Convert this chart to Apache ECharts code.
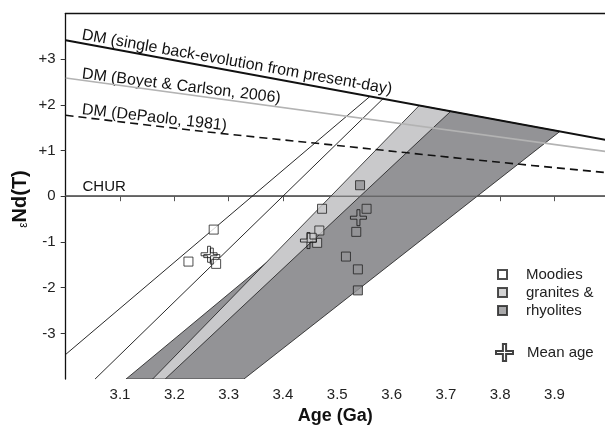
<!DOCTYPE html>
<html><head><meta charset="utf-8">
<script src="https://cdn.jsdelivr.net/npm/echarts@6/dist/echarts.min.js"></script>
<style>html,body{margin:0;padding:0;background:#fff}#c{width:605px;height:430px}</style>
</head><body><div id="c"></div>
<script>
// Depleted-mantle and CHUR reference curves
const dmSingleAge = [3.0, 4.0];
const dmSingleEps = [3.41, 1.22];
const dmBoyetAge = [3.0, 4.0];
const dmBoyetEps = [2.585, 0.97];
const dmDePaoloAge = [3.0, 3.25, 3.5, 3.75, 4.0];
const dmDePaoloEps = [1.77, 1.42, 1.11, 0.80, 0.51];
const churAge = [3.0, 4.0];
const churEps = [0, 0];
// Moodies crustal evolution lines
const moodiesLine1Age = [3.0, 3.560];
const moodiesLine1Eps = [-3.46, 2.18];
const moodiesLine2Age = [3.054, 3.585];
const moodiesLine2Eps = [-4.0, 2.14];
// Evolution bands (polygon corners)
const graniteBandAge = [3.160, 3.651, 3.709, 3.183];
const graniteBandEps = [-4.0, 1.984, 1.857, -4.0];
const rhyoliteBandAge = [3.111, 3.706, 3.910, 3.328];
const rhyoliteBandEps = [-4.0, 1.863, 1.417, -4.0];
// Samples
const moodiesAge = [3.2725, 3.226, 3.277];
const moodiesEps = [-0.73, -1.43, -1.48];
const graniteAge = [3.472, 3.467, 3.463, 3.453];
const graniteEps = [-0.275, -0.75, -1.02, -0.91];
const rhyoliteAge = [3.542, 3.554, 3.535, 3.516, 3.538, 3.538];
const rhyoliteEps = [0.24, -0.275, -0.78, -1.32, -1.60, -2.06];
const meanAgeAge = [3.264, 3.269, 3.447, 3.539];
const meanAgeEps = [-1.27, -1.31, -0.97, -0.47];
// Tick labels
const xTickLabels = ['3.1','3.2','3.3','3.4','3.5','3.6','3.7','3.8','3.9'];
const yTickValues = [3, 2, 1, 0, -1, -2, -3];
const yTickLabels = ['+3','+2','+1','0','-1','-2','-3'];

const zip = (a, b) => a.map((v, i) => [v, b[i]]);
const FONT = 'Liberation Sans, Arial, Helvetica, sans-serif';
const crossPath = 'path://M6.5,0 H9.5 V6.5 H16 V9.5 H9.5 V16 H6.5 V9.5 H0 V6.5 H6.5 Z';

function bandSeries(name, ages, eps, fill) {
  return {
    type: 'custom', name: name, silent: true, z: 1, clip: true,
    data: zip(ages, eps),
    renderItem: function (params, api) {
      if (params.dataIndex !== 0) return null;
      const pts = ages.map((a, i) => api.coord([a, eps[i]]));
      return { type: 'polygon', shape: { points: pts },
        style: { fill: fill, stroke: '#1a1a1a', lineWidth: 0.8 } };
    }
  };
}
function lineSeries(ages, eps, color, width, extra) {
  return Object.assign({
    type: 'line', data: zip(ages, eps), symbol: 'none', silent: true, z: 3,
    lineStyle: { color: color, width: width }
  }, extra || {});
}

const chart = echarts.init(document.getElementById('c'), null, { renderer: 'canvas' });
chart.setOption({
  animation: false,
  backgroundColor: '#fff',
  grid: { left: 65.7, right: 0, top: 13.3, bottom: 50, show: false },
  xAxis: [{
    type: 'value', min: 3.0, max: 3.993, interval: 0.1,
    name: 'Age (Ga)', nameLocation: 'middle', nameGap: 22,
    nameTextStyle: { fontFamily: FONT, fontSize: 18, fontWeight: 'bold', color: '#111', verticalAlign: 'top' },
    axisLine: { show: true, lineStyle: { color: '#555', width: 1.5 } },
    axisTick: { show: true, inside: false, length: 5, lineStyle: { color: '#555', width: 1 } },
    axisLabel: { margin: 8, fontFamily: FONT, fontSize: 15, color: '#222',
      showMinLabel: false, showMaxLabel: false,
      formatter: v => { const s = v.toFixed(1); return xTickLabels.includes(s) ? s : ''; } },
    splitLine: { show: false }
  }, {
    type: 'value', position: 'top', min: 3.0, max: 3.993,
    axisLine: { show: true, onZero: false, lineStyle: { color: '#111', width: 1.3 } },
    axisTick: { show: false }, axisLabel: { show: false }, splitLine: { show: false }
  }],
  yAxis: {
    type: 'value', min: -4, max: 4, interval: 1,
    axisLine: { show: true, onZero: false, lineStyle: { color: '#111', width: 1.3 } },
    axisTick: { show: true, inside: false, length: 5, lineStyle: { color: '#333', width: 1 } },
    axisLabel: { margin: 10, fontFamily: FONT, fontSize: 15, color: '#222',
      showMinLabel: false, showMaxLabel: false,
      formatter: v => { const i = yTickValues.indexOf(Math.round(v)); return i >= 0 ? yTickLabels[i] : ''; } },
    splitLine: { show: false }
  },
  legend: [
    { data: ['Moodies', 'granites &', 'rhyolites'], orient: 'vertical', left: 497, top: 267, padding: 0,
      itemWidth: 9, itemHeight: 9, itemGap: 3, selectedMode: false,
      textStyle: { fontFamily: FONT, fontSize: 15, color: '#222', padding: [0, 0, 0, 14] } },
    { data: ['Mean age'], orient: 'vertical', left: 495, top: 343, padding: 0,
      itemWidth: 17, itemHeight: 17, selectedMode: false,
      textStyle: { fontFamily: FONT, fontSize: 15, color: '#222', padding: [0, 0, 0, 9] } }
  ],
  series: [
    bandSeries('rhyolite band', rhyoliteBandAge, rhyoliteBandEps, '#939396'),
    bandSeries('granite band', graniteBandAge, graniteBandEps, '#c9c9cb'),
    lineSeries(churAge, churEps, '#555', 1),
    lineSeries(moodiesLine1Age, moodiesLine1Eps, '#111', 0.9),
    lineSeries(moodiesLine2Age, moodiesLine2Eps, '#111', 0.9),
    lineSeries(dmBoyetAge, dmBoyetEps, '#b3b3b3', 1.6),
    lineSeries(dmDePaoloAge, dmDePaoloEps, '#111', 1.6, { smooth: 0.3, lineStyle: { color: '#111', width: 1.6, type: [8, 5] } }),
    lineSeries(dmSingleAge, dmSingleEps, '#111', 2),
    { type: 'scatter', name: 'Moodies', data: zip(moodiesAge, moodiesEps), symbol: 'rect', symbolSize: 9, z: 5,
      itemStyle: { color: '#fff', borderColor: '#222', borderWidth: 1 } },
    { type: 'scatter', name: 'granites &', data: zip(graniteAge, graniteEps), symbol: 'rect', symbolSize: 9, z: 5,
      itemStyle: { color: '#c9c9cb', borderColor: '#222', borderWidth: 1 } },
    { type: 'scatter', name: 'rhyolites', data: zip(rhyoliteAge, rhyoliteEps), symbol: 'rect', symbolSize: 9, z: 5,
      itemStyle: { color: '#939396', borderColor: '#222', borderWidth: 1 } },
    { type: 'scatter', name: 'Mean age', data: zip(meanAgeAge, meanAgeEps), symbol: crossPath, symbolSize: 16, z: 6,
      itemStyle: { color: 'rgba(255,255,255,0)', borderColor: '#111', borderWidth: 1 } }
  ],
  graphic: [
    { type: 'text', x: 82, y: 35, rotation: -10 * Math.PI / 180,
      style: { text: 'DM (single back-evolution from present-day)', font: '16px ' + FONT, fill: '#111', verticalAlign: 'middle' } },
    { type: 'text', x: 82, y: 74, rotation: -7 * Math.PI / 180,
      style: { text: 'DM (Boyet & Carlson, 2006)', font: '16px ' + FONT, fill: '#111', verticalAlign: 'middle' } },
    { type: 'text', x: 82, y: 109.5, rotation: -6.5 * Math.PI / 180,
      style: { text: 'DM (DePaolo, 1981)', font: '16px ' + FONT, fill: '#111', verticalAlign: 'middle' } },
    { type: 'text', x: 82.5, y: 187, style: { text: 'CHUR', font: '15px ' + FONT, fill: '#111', verticalAlign: 'middle' } },
    { type: 'text', x: 20, y: 199, rotation: Math.PI / 2,
      style: { text: '{e|ε}{b|Nd(T)}', align: 'center', verticalAlign: 'middle',
        rich: { e: { fontFamily: FONT, fontSize: 12, fill: '#111', verticalAlign: 'bottom' },
                b: { fontFamily: FONT, fontSize: 20, fontWeight: 'bold', fill: '#111' } } } }
  ]
});
</script></body></html>
